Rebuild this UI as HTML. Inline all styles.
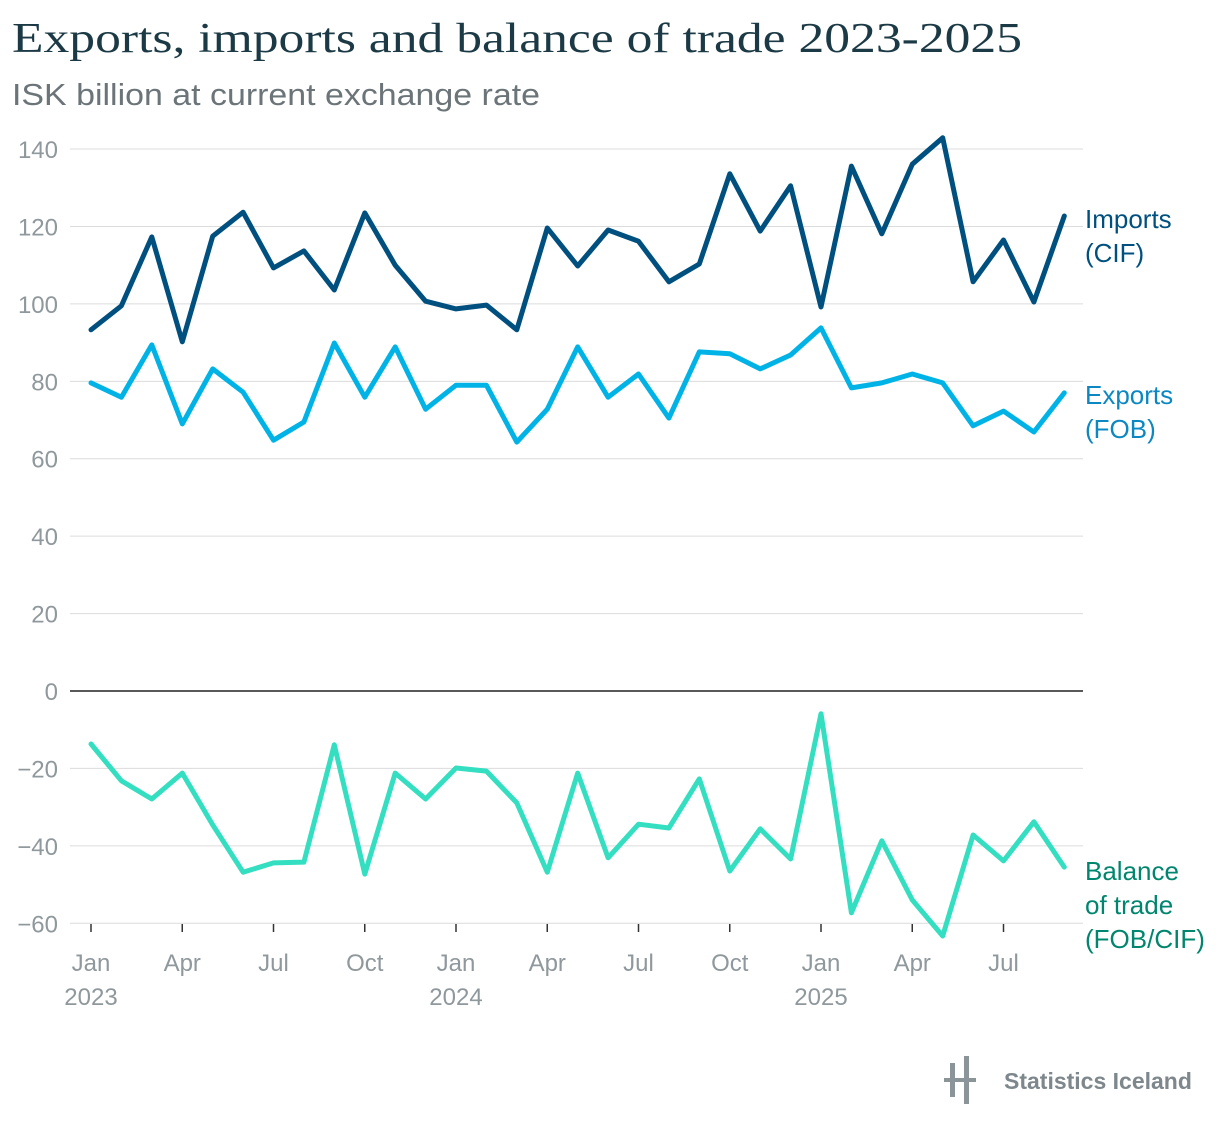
<!DOCTYPE html>
<html><head><meta charset="utf-8"><style>
body{margin:0;background:#fff;width:1220px;height:1130px;overflow:hidden;font-family:"Liberation Sans",sans-serif}
</style></head><body>
<svg id="c" width="1220" height="1130">
<text x="12" y="52" font-family="Liberation Serif,serif" font-size="42" fill="#1c3a45" textLength="1010" lengthAdjust="spacingAndGlyphs">Exports, imports and balance of trade 2023-2025</text>
<text x="12" y="105" font-size="31" fill="#6b7478" textLength="528" lengthAdjust="spacingAndGlyphs">ISK billion at current exchange rate</text>
<g id="grid"></g><g id="series"></g>
<g>
<rect x="950" y="1063" width="5" height="34" fill="#8a9499"/><rect x="964" y="1056" width="5" height="48" fill="#8a9499"/><rect x="944" y="1078" width="32" height="4" fill="#8a9499"/>
<text x="1004" y="1089" font-size="23" font-weight="bold" fill="#7d878c">Statistics Iceland</text></g>
</svg>
<script>
const yTicks=[140,120,100,80,60,40,20,0,-20,-40,-60];
const xLabels=[["Jan","2023"],["Apr",""],["Jul",""],["Oct",""],["Jan","2024"],["Apr",""],["Jul",""],["Oct",""],["Jan","2025"],["Apr",""],["Jul",""]];
const imports=[93.3,99.5,117.3,90.2,117.5,123.7,109.3,113.7,103.6,123.5,110,100.7,98.7,99.7,93.3,119.6,109.8,119.1,116.2,105.7,110.3,133.6,118.8,130.5,99.2,135.6,118.1,136.1,142.9,105.7,116.5,100.5,122.7];
const exportsD=[79.6,75.9,89.4,69,83.2,77.2,64.8,69.5,89.9,75.9,88.9,72.8,79,79,64.3,72.8,88.9,75.9,81.9,70.5,87.6,87.1,83.2,86.8,93.8,78.3,79.6,81.9,79.6,68.5,72.3,66.9,77];
const balance=[-13.7,-23.2,-27.9,-21.2,-34.6,-46.8,-44.4,-44.2,-13.9,-47.3,-21.2,-27.9,-19.9,-20.7,-28.9,-46.8,-21.2,-43.1,-34.4,-35.4,-22.7,-46.5,-35.6,-43.4,-5.9,-57.3,-38.7,-54,-63.3,-37.2,-43.9,-33.8,-45.5];
const NS="http://www.w3.org/2000/svg";
const y=v=>691-v*3.871, x=i=>91+i*(730/24);
function mk(t,a,p){const e=document.createElementNS(NS,t);for(const k in a)e.setAttribute(k,a[k]);p.appendChild(e);return e;}
const g=document.getElementById('grid');
yTicks.forEach(v=>{
 const l=mk('line',{x1:70,x2:1083,y1:y(v),y2:y(v),stroke:v==0?'#222':'#dcdcdc','stroke-width':v==0?1.5:1},g);
 
 
 const t=mk('text',{x:58,y:y(v)+9,'text-anchor':'end','font-size':24,fill:'#8f989c'},g);
 t.textContent=v<0?'\u2212'+(-v):v;
 
 
});
xLabels.forEach((lb,k)=>{
 const xx=x(k*3);
 const tk=mk('line',{x1:xx,x2:xx,y1:924,y2:932,stroke:'#333','stroke-width':1.5},g);
 
 
 const t=mk('text',{x:xx,y:971,'text-anchor':'middle','font-size':24,fill:'#8f989c'},g);
 t.textContent=lb[0];
 
 
 if(lb[1]){const t2=mk('text',{x:xx,y:1005,'text-anchor':'middle','font-size':24,fill:'#8f989c'},g);t2.textContent=lb[1];
 
 }
});
const s=document.getElementById('series');
function line(d,col,name,lbl,lc,ly){
 const p=mk('path',{d:d.map((v,i)=>(i?'L':'M')+x(i).toFixed(1)+','+y(v).toFixed(1)).join(''),fill:'none',stroke:col,'stroke-width':5,'stroke-linejoin':'round','stroke-linecap':'round'},s);
 
 
 lbl.forEach((tx,i)=>{const t=mk('text',{x:1085,y:ly+i*34,'font-size':26,fill:lc},s);t.textContent=tx;
 
 });
}
line(imports,'#00507f','imports',['Imports','(CIF)'],'#00507f',228);
line(exportsD,'#00b3e6','exports',['Exports','(FOB)'],'#0b88c2',404);
line(balance,'#33dfc0','balance',['Balance','of trade','(FOB/CIF)'],'#00866e',880);
</script>
</body></html>
